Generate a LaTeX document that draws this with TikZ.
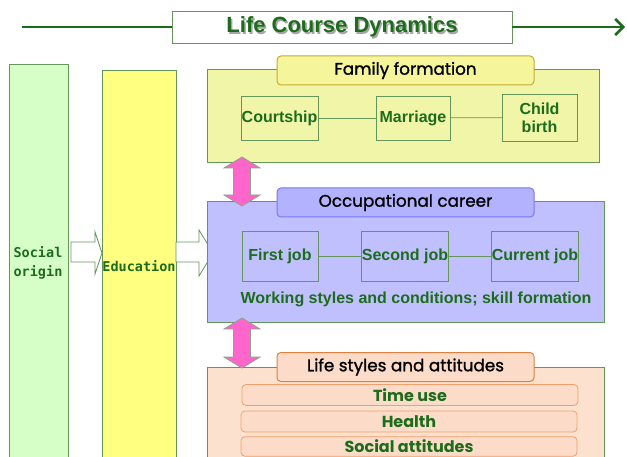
\documentclass[tikz,border=0pt]{standalone}
\usepackage{fontspec}
\setmainfont{Liberation Sans}
\newfontfamily\monof{DejaVu Sans Mono}
\newfontfamily\gothic[FakeBold=1.2]{Poppins}
\newfontfamily\gothicbold{Poppins}
\usetikzlibrary{arrows.meta}
\definecolor{tgreen}{RGB}{28,108,28}
\definecolor{lgreenfill}{RGB}{214,255,200}
\definecolor{boxline}{RGB}{100,150,90}
\definecolor{edufill}{RGB}{255,255,128}
\definecolor{famfill}{RGB}{240,245,168}
\definecolor{famhead}{RGB}{245,245,155}
\definecolor{famheadline}{RGB}{200,170,50}
\definecolor{occfill}{RGB}{192,192,255}
\definecolor{occhead}{RGB}{178,178,255}
\definecolor{occheadline}{RGB}{120,120,240}
\definecolor{lifefill}{RGB}{252,226,206}
\definecolor{lifehead}{RGB}{252,220,200}
\definecolor{lifeheadline}{RGB}{224,128,64}
\definecolor{barline}{RGB}{240,160,110}
\definecolor{pinkfill}{RGB}{255,102,204}
\definecolor{pinkline}{RGB}{140,160,140}
\begin{document}
\begin{tikzpicture}[x=1pt,y=-1pt,
  panel/.style={draw=boxline, line width=0.8pt, inner sep=0pt},
  header/.style={rounded corners=4pt, line width=1pt, inner sep=0pt,
    font=\gothic\fontsize{16.8}{18}\selectfont, minimum width=257pt, minimum height=29pt},
  item/.style={draw=boxline, line width=0.8pt, text=tgreen, inner sep=0pt, align=center,
    font=\bfseries\fontsize{16}{18}\selectfont},
  bar/.style={draw=barline, fill=lifehead, rounded corners=4pt, line width=0.8pt, inner sep=0pt,
    text=tgreen, font=\gothicbold\bfseries\fontsize{16}{18}\selectfont,
    minimum width=336pt, minimum height=21pt},
  link/.style={draw=boxline, line width=0.8pt},
  hollow/.style={draw=boxline, fill=white, line width=0.8pt},
  pinkarrow/.style={draw=pinkline, fill=pinkfill, line width=0.8pt},
  sideword/.style={text=tgreen, font=\monof\bfseries\fontsize{13.5}{19}\selectfont, align=center, inner sep=0pt},
  timeline/.style={draw=tgreen, line width=2.5pt}
]
\useasboundingbox (0,0) rectangle (627,457);
\clip (0,0) rectangle (627,457);
% side columns
\node[panel, fill=lgreenfill, minimum width=59pt, minimum height=406pt] (social) at (38.5,267) {};
\node[panel, fill=edufill, minimum width=74pt, minimum height=400pt] (edu) at (139,270) {};
\node[sideword] (socialtxt) at (38,263) {Social\\origin};
\node[sideword] (edutxt) at (139,266) {Education};
% hollow arrows
\draw[hollow] (71,242) -- (95,242) -- (95,232) -- (102,253) -- (95,274) -- (95,262) -- (71,262) -- cycle;
\draw[hollow] (176,242) -- (199,242) -- (199,230) -- (213,253) -- (199,276) -- (199,262) -- (176,262) -- cycle;
% panels
\node[panel, fill=famfill, minimum width=392pt, minimum height=93pt] (fam) at (403,115.5) {};
\node[panel, fill=occfill, minimum width=397pt, minimum height=121pt] (occ) at (405.5,261.5) {};
\node[panel, fill=lifefill, minimum width=397pt, minimum height=103pt] (life) at (405.5,418.5) {};
% headers
\node[header, draw=famheadline, fill=famhead] (famh) at (405.5,70.5) {Family formation};
\node[header, draw=occheadline, fill=occhead] (occh) at (405.5,202.5) {Occupational career};
\node[header, draw=lifeheadline, fill=lifehead] (lifeh) at (405.5,367) {Life styles and attitudes};
% family items
\node[item, fill=famfill, minimum width=77pt, minimum height=44pt] (court) at (279.5,118) {Courtship};
\node[item, fill=famfill, minimum width=74pt, minimum height=44pt] (marr) at (413,118) {Marriage};
\node[item, fill=famfill, minimum width=75pt, minimum height=47pt] (child) at (539.5,117.5) {Child\\birth};
\draw[link] (court) -- (marr);
\draw[link] (marr) -- (child);
% jobs
\node[item, fill=occfill, minimum width=76pt, minimum height=50pt] (job1) at (280,256) {First job};
\node[item, fill=occfill, minimum width=86pt, minimum height=50pt] (job2) at (405,256) {Second job};
\node[item, fill=occfill, minimum width=86pt, minimum height=50pt] (job3) at (535,256) {Current job};
\draw[link] (job1) -- (job2);
\draw[link] (job2) -- (job3);
\node[text=tgreen, font=\bfseries\fontsize{16}{18}\selectfont, inner sep=0pt] (work) at (416,299) {Working styles and conditions; skill formation};
% life bars
\node[bar] (time) at (410,395) {Time use};
\node[bar] (health) at (409,421.5) {Health};
\node[bar, minimum height=19.5pt] (attit) at (409,446.5) {Social attitudes};
% pink double arrows
\draw[pinkarrow] (242,157) -- (260,168) -- (250.5,168) -- (250.5,195) -- (260,195) -- (242,206) -- (224,195) -- (233.5,195) -- (233.5,168) -- (224,168) -- cycle;
\draw[pinkarrow] (242,318) -- (260,329) -- (250.5,329) -- (250.5,357) -- (260,357) -- (242,368) -- (224,357) -- (233.5,357) -- (233.5,329) -- (224,329) -- cycle;
% title and time line
\node[draw=boxline, line width=0.6pt, fill=white, minimum width=340pt, minimum height=32pt, inner sep=0pt] (title) at (342,27) {};
\node[text=black!35, font=\bfseries\fontsize{22}{24}\selectfont, inner sep=0pt] (titleshadow) at (343.5,28.5) {Life Course Dynamics};
\node[text=tgreen, font=\bfseries\fontsize{22}{24}\selectfont, inner sep=0pt] (titletxt) at (342,27) {Life Course Dynamics};
\coordinate (ls) at (22,27);
\coordinate (le) at (625,27);
\draw[timeline] (ls) -- (title.west);
\draw[timeline, -{Straight Barb[length=8pt,width=16pt]}] (title.east) -- (le);
\end{tikzpicture}
\end{document}
